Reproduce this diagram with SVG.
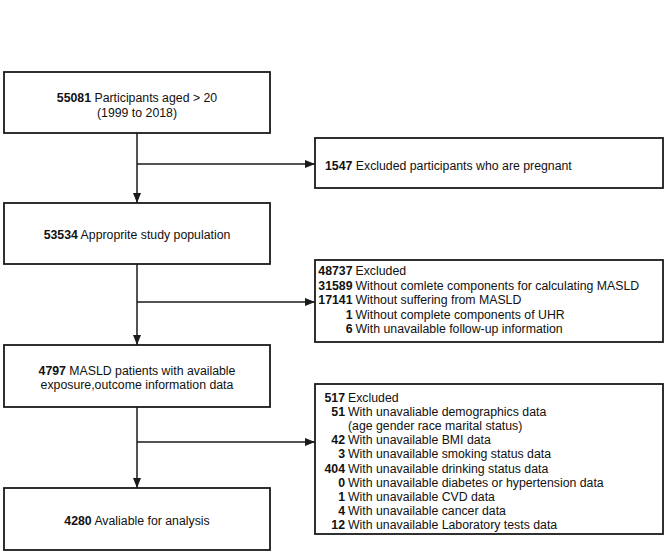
<svg xmlns="http://www.w3.org/2000/svg" width="669" height="553" viewBox="0 0 669 553">
<style>
.box{fill:#fff;stroke:#1a1a1a;stroke-width:1.8}
.ln{fill:none;stroke:#1a1a1a;stroke-width:1.5}
text{font-family:"Liberation Sans",Arial,sans-serif;font-size:12.3px;fill:#111}
.b{font-weight:bold}
.m{text-anchor:middle}
.e{text-anchor:end}
</style>
<defs>
<marker id="ah" markerUnits="userSpaceOnUse" markerWidth="10" markerHeight="8" refX="10" refY="4" orient="auto">
<path d="M0,0 L10,4 L0,8 Z" fill="#1a1a1a"/>
</marker>
</defs>
<rect width="669" height="553" fill="#fff"/>
<g id="connectors">
<line class="ln" x1="137" y1="133" x2="137" y2="203" marker-end="url(#ah)"/>
<line class="ln" x1="137" y1="164" x2="315" y2="164" marker-end="url(#ah)"/>
<line class="ln" x1="137" y1="264" x2="137" y2="345" marker-end="url(#ah)"/>
<line class="ln" x1="137" y1="302" x2="315" y2="302" marker-end="url(#ah)"/>
<line class="ln" x1="137" y1="407" x2="137" y2="488" marker-end="url(#ah)"/>
<line class="ln" x1="137" y1="442" x2="315" y2="442" marker-end="url(#ah)"/>
</g>
<g id="n1">
<rect class="box" x="4" y="72" width="266" height="61"/>
<text class="m" x="137" y="101.5"><tspan class="b">55081</tspan> Participants aged &gt; 20</text>
<text class="m" x="137" y="116.5">(1999 to 2018)</text>
</g>
<g id="n2">
<rect class="box" x="315" y="138" width="348" height="50"/>
<text x="325" y="169.5"><tspan class="b">1547</tspan> Excluded participants who are pregnant</text>
</g>
<g id="n3">
<rect class="box" x="4" y="203" width="266" height="61"/>
<text class="m" x="137" y="238.5"><tspan class="b">53534</tspan> Approprite study population</text>
</g>
<g id="n4">
<rect class="box" x="315" y="260" width="348" height="82"/>
<text class="b e" x="352.5" y="275">48737</text><text x="355.5" y="275">Excluded</text>
<text class="b e" x="352.5" y="289.5">31589</text><text x="355.5" y="289.5">Without comlete components for calculating MASLD</text>
<text class="b e" x="352.5" y="304">17141</text><text x="355.5" y="304">Without suffering from MASLD</text>
<text class="b e" x="352.5" y="318.5">1</text><text x="355.5" y="318.5">Without complete components of UHR</text>
<text class="b e" x="352.5" y="333">6</text><text x="355.5" y="333">With unavailable follow-up information</text>
</g>
<g id="n5">
<rect class="box" x="4" y="345" width="266" height="62"/>
<text class="m" x="137" y="374.5"><tspan class="b">4797</tspan> MASLD patients with available</text>
<text class="m" x="137" y="389">exposure,outcome information data</text>
</g>
<g id="n6">
<rect class="box" x="315" y="384" width="348" height="150"/>
<text class="b e" x="345" y="401.5">517</text><text x="348" y="401.5">Excluded</text>
<text class="b e" x="345" y="415.7">51</text><text x="348" y="415.7">With unavaliable demographics data</text>
<text x="348" y="429.9">(age gender race marital status)</text>
<text class="b e" x="345" y="444.1">42</text><text x="348" y="444.1">With unavailable BMI data</text>
<text class="b e" x="345" y="458.3">3</text><text x="348" y="458.3">With unavailable smoking status data</text>
<text class="b e" x="345" y="472.5">404</text><text x="348" y="472.5">With unavailable drinking status data</text>
<text class="b e" x="345" y="486.7">0</text><text x="348" y="486.7">With unavailable diabetes or hypertension data</text>
<text class="b e" x="345" y="500.9">1</text><text x="348" y="500.9">With unavailable CVD data</text>
<text class="b e" x="345" y="515.1">4</text><text x="348" y="515.1">With unavailable cancer data</text>
<text class="b e" x="345" y="529.3">12</text><text x="348" y="529.3">With unavailable Laboratory tests data</text>
</g>
<g id="n7">
<rect class="box" x="4" y="488" width="266" height="62"/>
<text class="m" x="137" y="525"><tspan class="b">4280</tspan> Avaliable for analysis</text>
</g>
</svg>
